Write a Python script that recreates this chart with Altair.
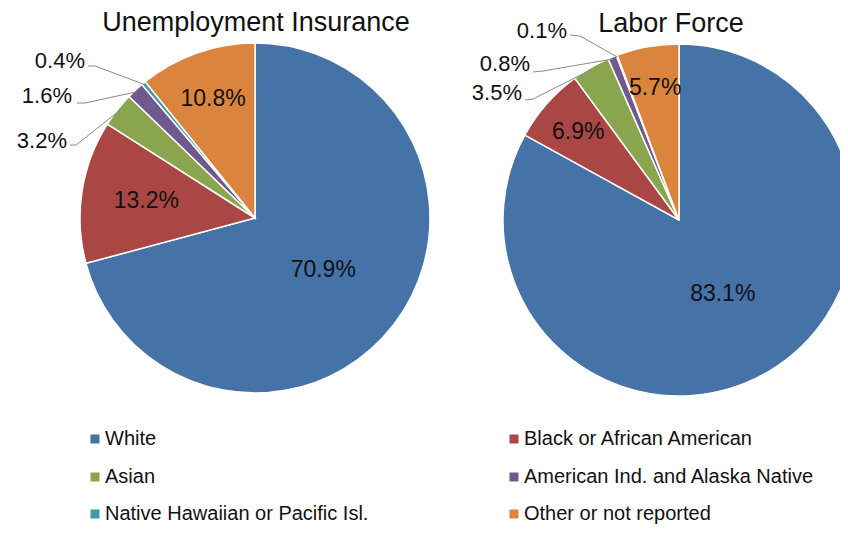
import math
import altair as alt
import pandas as pd

# ---------------- data ----------------
CATEGORIES = [
    "White",
    "Black or African American",
    "Asian",
    "American Ind. and Alaska Native",
    "Native Hawaiian or Pacific Isl.",
    "Other or not reported",
]
COLORS = ["#4572A7", "#AA4643", "#89A54E", "#71588F", "#4198AF", "#DB843D"]
UI_VALUES = [70.9, 13.2, 3.2, 1.6, 0.4, 10.8]
LF_VALUES = [83.1, 6.9, 3.5, 0.8, 0.1, 5.7]
PIE_TITLES = ["Unemployment Insurance", "Labor Force"]

# ---------------- layout (pixels, chart coordinates) ----------------
W, H = 832, 517
FONT = "Liberation Sans"
TXT = "#111111"
PIES = [
    dict(values=UI_VALUES, title=PIE_TITLES[0], cx=247, cy=210, r=175, tx=248, ty=23,
         inside={"White": 86, "Black or African American": 110, "Other or not reported": 126},
         outside={  # text right end (x, y-center), leader start points
             "Asian": ((59, 133), (62, 137), (68, 137)),
             "American Ind. and Alaska Native": ((64, 88), (69, 95), (77, 95)),
             "Native Hawaiian or Pacific Isl.": ((77, 53), (80, 58), (87, 58)),
         }),
    dict(values=LF_VALUES, title=PIE_TITLES[1], cx=671, cy=212, r=176, tx=663, ty=24,
         inside={"White": 86, "Black or African American": 134, "Other or not reported": 134},
         outside={
             "Asian": ((514, 85), (517, 92), (525, 91)),
             "American Ind. and Alaska Native": ((522, 56), (525, 64), (535, 63)),
             "Native Hawaiian or Pacific Isl.": ((559, 23), (562, 27), (572, 28)),
         }),
]
LEG_X = [87, 506]
LEG_Y = [431, 469, 506]

color_scale = alt.Scale(domain=CATEGORIES, range=COLORS)
layers = []

for p in PIES:
    vals = p["values"]
    total = sum(vals)
    rows = []
    cum = 0.0
    for i, (c, v) in enumerate(zip(CATEGORIES, vals)):
        rows.append(dict(cat=c, value=v, idx=i,
                         lab=f"{v:.1f}%" if c in p["inside"] else "",
                         lr=p["inside"].get(c, 0),
                         mid=(cum + v / 2) / total * 2 * math.pi))
        cum += v
    df = pd.DataFrame(rows)

    # slices (stacked by the library)
    layers.append(alt.Chart(df).mark_arc(radius=p["r"], stroke="white", strokeWidth=1.5).encode(
        theta=alt.Theta("value:Q", stack=True),
        order=alt.Order("idx:Q"),
        color=alt.Color("cat:N", scale=color_scale, legend=None),
        x=alt.value(p["cx"]), y=alt.value(p["cy"]),
    ))
    # inside labels at slice mid-angle
    layers.append(alt.Chart(df).transform_window(
        cum="sum(value)", sort=[alt.SortField("idx")], frame=[None, 0]
    ).transform_calculate(
        midv="datum.cum - datum.value / 2"
    ).transform_filter("datum.lab != ''").mark_text(font=FONT, fontSize=23, color=TXT).encode(
        theta=alt.Theta("midv:Q", scale=alt.Scale(domain=[0, total], range=[0, 2 * math.pi])),
        radius=alt.Radius("lr:Q", scale=None), text="lab:N",
        x=alt.value(p["cx"]), y=alt.value(p["cy"]),
    ))

    # outside labels + leader lines
    out_rows, line_rows = [], []
    for c, (tpos, a, b) in p["outside"].items():
        r_ = df[df.cat == c].iloc[0]
        out_rows.append(dict(cat=c, lab=f"{r_.value:.1f}%", x=tpos[0], y=tpos[1]))
        ex = p["cx"] + (p["r"] - 2) * math.sin(r_.mid)
        ey = p["cy"] - (p["r"] - 2) * math.cos(r_.mid)
        for k, (xx, yy) in enumerate([a, b, (ex, ey)]):
            line_rows.append(dict(cat=c, k=k, x=xx, y=yy))
    layers.append(alt.Chart(pd.DataFrame(line_rows)).mark_line(color="#8a8a8a", strokeWidth=1).encode(
        x=alt.X("x:Q", scale=None, axis=None), y=alt.Y("y:Q", scale=None, axis=None),
        detail="cat:N", order="k:Q"))
    layers.append(alt.Chart(pd.DataFrame(out_rows)).mark_text(
        font=FONT, fontSize=22, color=TXT, align="right", baseline="middle").encode(
        x=alt.X("x:Q", scale=None, axis=None), y=alt.Y("y:Q", scale=None, axis=None), text="lab:N"))

    # title
    layers.append(alt.Chart(pd.DataFrame([dict(t=p["title"])])).mark_text(
        font=FONT, fontSize=27, color=TXT, align="center", baseline="alphabetic").encode(
        x=alt.value(p["tx"]), y=alt.value(p["ty"]), text="t:N"))

# legend (manual, 2 columns x 3 rows)
leg = pd.DataFrame([dict(cat=c, x=LEG_X[i % 2], y=LEG_Y[i // 2]) for i, c in enumerate(CATEGORIES)])
layers.append(alt.Chart(leg).mark_square(size=81, opacity=1).encode(
    x=alt.X("x:Q", scale=None, axis=None), y=alt.Y("y:Q", scale=None, axis=None),
    color=alt.Color("cat:N", scale=color_scale, legend=None)))
layers.append(alt.Chart(leg).mark_text(font=FONT, fontSize=20, color=TXT, align="left",
                                       baseline="middle", dx=10).encode(
    x=alt.X("x:Q", scale=None, axis=None), y=alt.Y("y:Q", scale=None, axis=None), text="cat:N"))

chart = alt.layer(*layers).resolve_scale(theta="independent", radius="independent").properties(
    width=W, height=H, padding=0, autosize=alt.AutoSizeParams(type="none")
).configure_view(stroke=None)

chart.save("out.html", embed_options={"renderer": "svg", "actions": False})
